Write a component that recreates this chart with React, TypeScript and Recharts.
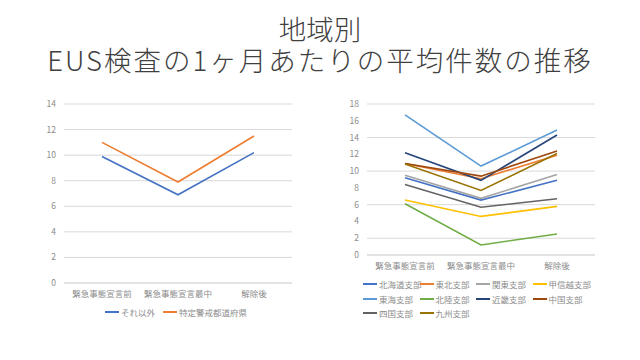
import React from "react";
import { LineChart, Line, XAxis, YAxis, CartesianGrid } from "recharts";

const categories = ["緊急事態宣言前", "緊急事態宣言最中", "解除後"];

// left chart
const sonotaValues = [9.9, 6.9, 10.2];
const tokuteiValues = [11.0, 7.9, 11.5];
const leftTicks = [0, 2, 4, 6, 8, 10, 12, 14];

// right chart
const regionNames = [
  "北海道支部", "東北支部", "関東支部", "甲信越支部", "東海支部",
  "北陸支部", "近畿支部", "中国支部", "四国支部", "九州支部",
];
const hokkaido = [9.2, 6.55, 8.9];
const tohoku = [10.9, 9.1, 11.9];
const kanto = [9.5, 6.75, 9.6];
const koshinetsu = [6.55, 4.6, 5.8];
const tokai = [16.7, 10.6, 14.9];
const hokuriku = [6.1, 1.2, 2.5];
const kinki = [12.2, 8.9, 14.3];
const chugoku = [10.9, 9.4, 12.4];
const shikoku = [8.4, 5.7, 6.7];
const kyushu = [10.85, 7.7, 12.1];
const regionValues = [hokkaido, tohoku, kanto, koshinetsu, tokai, hokuriku, kinki, chugoku, shikoku, kyushu];
const rightTicks = [0, 2, 4, 6, 8, 10, 12, 14, 16, 18];

const COLORS = [
  "#4472C4", "#ED7D31", "#A5A5A5", "#FFC000", "#5B9BD5",
  "#70AD47", "#264478", "#9E480E", "#636363", "#997300",
];

const FONT = "'Noto Sans CJK JP', 'Noto Sans', sans-serif";
const TICK = { fill: "#8c8c8c", fontSize: 8.5, fontFamily: FONT };
const GRID = "#d9d9d9";

const leftData = categories.map((c, i) => ({
  name: c,
  sonota: sonotaValues[i],
  tokutei: tokuteiValues[i],
}));

const rightData = categories.map((c, i) => {
  const row: Record<string, string | number> = { name: c };
  regionNames.forEach((r, j) => {
    row[r] = regionValues[j][i];
  });
  return row;
});

function LegendItem({ color, label, x, y }: { color: string; label: string; x: number; y: number }) {
  return (
    <div style={{ position: "absolute", left: x, top: y, display: "flex", alignItems: "center", whiteSpace: "nowrap" }}>
      <div style={{ width: 14, height: 2, background: color, marginRight: 2 }} />
      <span style={{ fontSize: 8.5, color: "#8c8c8c", fontFamily: FONT, lineHeight: "10px" }}>{label}</span>
    </div>
  );
}

const titleStyle: React.CSSProperties = {
  position: "absolute",
  left: 0,
  width: 640,
  textAlign: "center",
  fontFamily: FONT,
  fontWeight: 300,
  fontSize: 27.5,
  lineHeight: "30px",
  color: "#404040",
  whiteSpace: "nowrap",
};

export default function App() {
  return (
    <div style={{ position: "absolute", left: 0, top: 0, width: 640, height: 360, background: "#fff", overflow: "hidden" }}>
      <div style={{ ...titleStyle, top: 13 }}>地域別</div>
      <div style={{ ...titleStyle, top: 44, letterSpacing: "2px" }}>EUS検査の1ヶ月あたりの平均件数の推移</div>

      {/* left chart */}
      <div style={{ position: "absolute", left: 0, top: 90 }}>
        <LineChart width={320} height={213} data={leftData} margin={{ top: 14, right: 28, bottom: 0, left: 0 }}>
          <CartesianGrid vertical={false} stroke={GRID} />
          <XAxis
            dataKey="name"
            tick={TICK}
            tickLine={false}
            axisLine={{ stroke: GRID }}
            interval={0}
            height={20}
            padding={{ left: 38, right: 38 }}
          />
          <YAxis domain={[0, 14]} ticks={leftTicks} tick={TICK} tickLine={false} axisLine={false} width={64} />
          <Line dataKey="sonota" stroke={COLORS[0]} strokeWidth={1.6} dot={false} isAnimationActive={false} />
          <Line dataKey="tokutei" stroke={COLORS[1]} strokeWidth={1.6} dot={false} isAnimationActive={false} />
        </LineChart>
      </div>
      <LegendItem color={COLORS[0]} label="それ以外" x={105} y={307} />
      <LegendItem color={COLORS[1]} label="特定警戒都道府県" x={163} y={307} />

      {/* right chart */}
      <div style={{ position: "absolute", left: 330, top: 90 }}>
        <LineChart width={300} height={185} data={rightData} margin={{ top: 14, right: 35, bottom: 0, left: 0 }}>
          <CartesianGrid vertical={false} stroke={GRID} />
          <XAxis
            dataKey="name"
            tick={TICK}
            tickLine={false}
            axisLine={{ stroke: GRID }}
            interval={0}
            height={20}
            padding={{ left: 38, right: 38 }}
          />
          <YAxis domain={[0, 18]} ticks={rightTicks} tick={TICK} tickLine={false} axisLine={false} width={37} />
          {regionNames.map((r, j) => (
            <Line key={r} dataKey={r} stroke={COLORS[j]} strokeWidth={1.6} dot={false} isAnimationActive={false} />
          ))}
        </LineChart>
      </div>
      {regionNames.map((r, j) => (
        <LegendItem
          key={r}
          color={COLORS[j]}
          label={r}
          x={363 + (j % 4) * 56.5}
          y={279 + Math.floor(j / 4) * 14.5}
        />
      ))}
    </div>
  );
}
